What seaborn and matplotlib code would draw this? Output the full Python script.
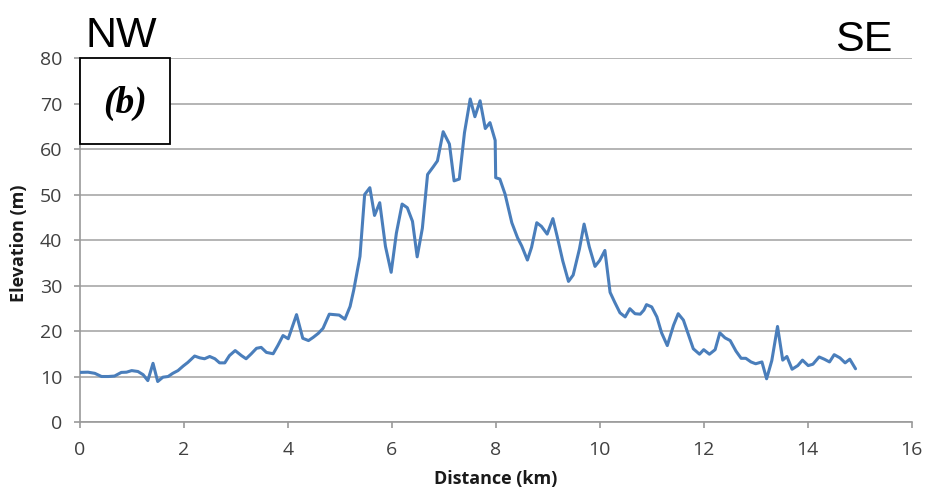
import matplotlib
matplotlib.use("Agg")
import matplotlib.pyplot as plt
import seaborn as sns
import pandas as pd
from matplotlib.patches import Rectangle

distance_km = [
    0.00, 0.16, 0.29, 0.42, 0.55, 0.67, 0.80, 0.90, 1.00, 1.12, 1.22, 1.31, 1.41, 1.50,
    1.60, 1.70, 1.79, 1.89, 1.99, 2.08, 2.21, 2.31, 2.40, 2.50, 2.60, 2.69, 2.79, 2.88,
    2.99, 3.11, 3.20, 3.30, 3.40, 3.49, 3.59, 3.72, 3.81, 3.91, 4.01, 4.17, 4.29, 4.40,
    4.49, 4.59, 4.68, 4.80, 4.90, 4.99, 5.10, 5.20, 5.27, 5.39, 5.48, 5.58, 5.67, 5.77,
    5.88, 5.99, 6.09, 6.20, 6.30, 6.40, 6.49, 6.59, 6.69, 6.80, 6.88, 6.99, 7.11, 7.20,
    7.30, 7.40, 7.51, 7.60, 7.70, 7.80, 7.89, 7.99, 8.00, 8.08, 8.18, 8.31, 8.42, 8.50,
    8.61, 8.69, 8.79, 8.88, 8.99, 9.10, 9.18, 9.29, 9.40, 9.49, 9.61, 9.70, 9.80, 9.91,
    10.00, 10.10, 10.20, 10.29, 10.39, 10.49, 10.58, 10.68, 10.78, 10.85, 10.90, 11.00,
    11.10, 11.19, 11.30, 11.42, 11.51, 11.61, 11.70, 11.80, 11.92, 12.00, 12.11, 12.22,
    12.31, 12.41, 12.51, 12.62, 12.72, 12.81, 12.91, 13.00, 13.12, 13.21, 13.31, 13.42,
    13.52, 13.60, 13.70, 13.81, 13.90, 14.01, 14.10, 14.22, 14.32, 14.42, 14.51, 14.62,
    14.72, 14.81, 14.92,
]
elevation_m = [
    10.9, 10.95, 10.7, 10.0, 10.0, 10.1, 10.9, 10.95, 11.3, 11.1, 10.4, 9.1, 12.9, 8.9,
    9.85, 10.0, 10.7, 11.3, 12.3, 13.1, 14.5, 14.1, 13.9, 14.4, 13.9, 13.0, 13.0, 14.6,
    15.7, 14.6, 13.9, 15.0, 16.2, 16.4, 15.3, 15.0, 16.8, 19.0, 18.3, 23.6, 18.4, 17.9,
    18.6, 19.5, 20.6, 23.7, 23.6, 23.5, 22.6, 25.4, 29.0, 36.4, 50.0, 51.5, 45.4, 48.2,
    38.6, 32.9, 41.5, 47.9, 47.1, 44.1, 36.3, 42.6, 54.4, 56.1, 57.4, 63.8, 61.1, 53.0,
    53.4, 63.6, 71.0, 67.1, 70.6, 64.5, 65.8, 61.9, 53.7, 53.4, 50.1, 43.8, 40.5, 38.7,
    35.6, 38.4, 43.8, 43.0, 41.3, 44.7, 40.9, 35.4, 30.9, 32.3, 38.0, 43.5, 38.5, 34.2,
    35.5, 37.7, 28.5, 26.3, 24.0, 23.1, 24.9, 23.8, 23.7, 24.6, 25.8, 25.3,
    23.1, 19.6, 16.8, 21.25, 23.8, 22.4, 19.4, 16.1, 14.9, 15.9, 14.9, 15.9,
    19.6, 18.5, 17.9, 15.6, 14.0, 14.0, 13.2, 12.8, 13.2, 9.5, 13.5, 21.0,
    13.6, 14.4, 11.6, 12.4, 13.6, 12.4, 12.7, 14.3, 13.8, 13.2, 14.8, 14.1,
    13.0, 13.8, 11.7,
]
x_ticks = [0, 2, 4, 6, 8, 10, 12, 14, 16]
y_ticks = [0, 10, 20, 30, 40, 50, 60, 70, 80]
x_label = "Distance (km)"
y_label = "Elevation (m)"
panel_label = "(b)"
left_dir = "NW"
right_dir = "SE"

df = pd.DataFrame({"Distance": distance_km, "Elevation": elevation_m})

sns.set_theme(style="white")
plt.rcParams["font.family"] = ["Open Sans", "DejaVu Sans"]

fig = plt.figure(figsize=(9.3, 4.98), dpi=100)
ax = fig.add_axes([0.0857, 0.1526, 0.8946, 0.7309])

sns.lineplot(data=df, x="Distance", y="Elevation", sort=False, ax=ax,
             color="#4A7EBB", linewidth=2.2, zorder=3)

ax.set_xlim(0, 16)
ax.set_ylim(0, 80)
ax.set_xticks(x_ticks)
ax.set_yticks(y_ticks)
ax.set_xticklabels([str(t) for t in x_ticks])
ax.set_yticklabels([str(t) for t in y_ticks])
ax.yaxis.grid(True, color="#A8A8A8", linewidth=1.2)
ax.xaxis.grid(False)
ax.set_axisbelow(True)

for s in ["top", "right"]:
    ax.spines[s].set_visible(False)
for s in ["left", "bottom"]:
    ax.spines[s].set_color("#9A9A9A")
    ax.spines[s].set_linewidth(1.2)

ax.tick_params(axis="both", which="major", direction="out", length=4.5,
               width=1.2, color="#9A9A9A", labelsize=14, labelcolor="#404040",
               bottom=True, left=True)
ax.tick_params(axis="x", pad=9)
ax.tick_params(axis="y", pad=8)

ax.set_xlabel(x_label, fontsize=13, fontweight="bold", color="#1a1a1a")
ax.set_ylabel(y_label, fontsize=13, fontweight="bold", color="#1a1a1a")
ax.xaxis.set_label_coords(0.5, -0.132)
ax.yaxis.set_label_coords(-0.062, 0.49)

# panel label box
box_bottom = 0.7637
box = Rectangle((0, box_bottom), 0.108, 1 - box_bottom, transform=ax.transAxes,
                facecolor="white", edgecolor="black", linewidth=1.3, zorder=5,
                clip_on=False)
ax.add_patch(box)
ax.text(0.054, 0.876, panel_label, transform=ax.transAxes, ha="center", va="center",
        fontsize=27, fontweight="bold", fontstyle="italic",
        family=["Liberation Serif", "DejaVu Serif"], color="black", zorder=6)

fig.text(85 / 930, 1 - 46.7 / 498, left_dir, ha="left", va="baseline",
         fontsize=31, family=["Liberation Sans", "DejaVu Sans"], color="black")
fig.text(835 / 930, 1 - 51 / 498, right_dir, ha="left", va="baseline",
         fontsize=31, family=["Liberation Sans", "DejaVu Sans"], color="black")

fig.savefig("out.png", dpi=100, facecolor="white")
